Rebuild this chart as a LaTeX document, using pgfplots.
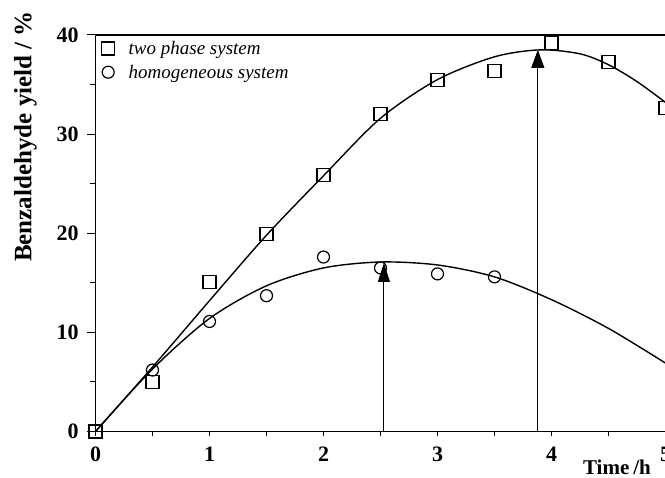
\documentclass[border=0pt]{standalone}
\usepackage{fontspec}
\setmainfont{Liberation Serif}
\usepackage{pgfplots}
\pgfplotsset{compat=1.18}
\usetikzlibrary{arrows.meta}
\begin{document}
\begin{tikzpicture}
\begin{axis}[
  at={(95.5bp,46.5bp)}, anchor=south west,
  width=570bp, height=396.5bp, scale only axis,
  xmin=0, xmax=5, ymin=0, ymax=40,
  xtick={0,1,2,3,4,5}, ytick={0,10,20,30,40},
  minor xtick={0.5,1.5,2.5,3.5,4.5}, minor ytick={5,15,25,35},
  tick align=outside, tick pos=left,
  xtick style={/pgfplots/major tick length=4.5bp, /pgfplots/minor tick length=4.5bp, line width=1bp, black},
  ytick style={/pgfplots/major tick length=8bp, /pgfplots/minor tick length=5bp, line width=1bp, black},
  axis line style={line width=1.3bp},
  ticklabel style={font=\bfseries\fontsize{22bp}{22bp}\selectfont},
  xticklabel style={yshift=-8bp},
  yticklabel style={xshift=-9bp},
  /pgf/number format/assume math mode=true,
  legend cell align=left,
  legend style={draw=none, fill=none, at={(rel axis cs:0,1)}, anchor=north west,
    xshift=5bp, yshift=-3bp,
    font=\itshape\fontsize{19bp}{22bp}\selectfont, row sep=5bp, inner sep=1bp,
    /tikz/every odd column/.append style={column sep=12bp}},
]
% fitted curves
\addplot[smooth, line width=1.4bp, forget plot] coordinates {
 (0,0) (0.5,6.5) (1,13.2) (1.5,19.8) (2,25.8) (2.5,31.6) (3,35.5) (3.5,37.8) (3.9,38.5) (4.25,38.1) (4.5,37.0) (4.75,35.3) (5,33.2)};
\addplot[smooth, line width=1.4bp, forget plot] coordinates {
 (0,0) (0.5,6.3) (1,11.4) (1.5,14.7) (2,16.5) (2.5,17.1) (3,16.8) (3.5,15.6) (4,13.3) (4.5,10.4) (5,6.9)};
% arrows
\addplot[line width=1bp, forget plot, -{Triangle[length=19bp,width=12bp]}] coordinates {(2.53,0) (2.53,17.0)};
\addplot[line width=1bp, forget plot, -{Triangle[length=18bp,width=13bp]}] coordinates {(3.88,0) (3.88,38.5)};
% data
\addplot[only marks, mark=square, mark size=6.5bp, mark options={line width=1.2bp, fill=none}] coordinates {
 (0,0) (0.5,5.0) (1,15.1) (1.5,19.9) (2,25.9) (2.5,32.0) (3,35.5) (3.5,36.4) (4,39.2) (4.5,37.3) (5,32.6)};
\addlegendentry{two phase system}
\addplot[only marks, mark=o, mark size=6bp, mark options={line width=1.2bp, fill=none}] coordinates {
 (0.5,6.2) (1,11.1) (1.5,13.7) (2,17.6) (2.5,16.5) (3,15.9) (3.5,15.6)};
\addlegendentry{homogeneous system}
\end{axis}
\node[rotate=90, font=\bfseries\fontsize{25bp}{25bp}\selectfont] at (25.5bp,341.5bp) {Benzaldehyde yield / \%};
\node[font=\bfseries\fontsize{21bp}{21bp}\selectfont] at (617bp,10.5bp) {Time\hspace{4bp}/h};
\pgfresetboundingbox
\path[use as bounding box] (0,0) rectangle (665bp,478bp);
\end{tikzpicture}
\end{document}
